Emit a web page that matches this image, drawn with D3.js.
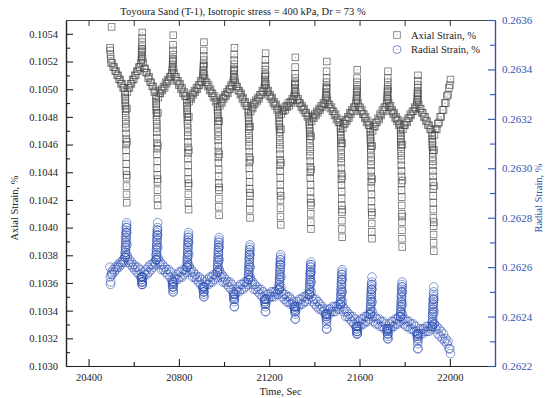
<!DOCTYPE html>
<html>
<head>
<meta charset="utf-8">
<script src="https://cdn.jsdelivr.net/npm/d3@7"></script>
<style>
  body { margin: 0; background: #fff; }
  svg { display: block; font-family: "Liberation Serif", "Times New Roman", serif; }
</style>
</head>
<body>
<script>
// Cyclic isotropic test record: one time stamp per reading, with the axial and
// radial strain logged at that same instant. One line per loading stage.
const timeSec = [
  20495, 20496, 20497, 20498, 20500, 20502,
  20505, 20509, 20514, 20518, 20522, 20527, 20531, 20535, 20540, 20544, 20548, 20553, 20557, 20561,
  20562, 20562, 20563, 20563, 20563, 20564, 20564, 20564, 20565, 20565, 20565, 20566, 20566, 20566, 20566, 20567, 20567, 20567, 20568, 20568, 20568, 20569, 20569, 20570, 20570,
  20572, 20577, 20581, 20586, 20590, 20595, 20600, 20604, 20609, 20614, 20618, 20623, 20627, 20632,
  20634, 20635, 20635, 20636, 20636, 20637, 20637, 20637, 20638, 20638, 20639,
  20641, 20646, 20650, 20655, 20659, 20664, 20668, 20673, 20677, 20682, 20686, 20691, 20695, 20700,
  20699, 20699, 20700, 20700, 20700, 20701, 20701, 20701, 20702, 20702, 20702, 20703, 20703, 20703, 20703, 20704, 20704, 20704, 20705, 20705, 20705, 20706, 20706, 20707, 20707,
  20709, 20714, 20718, 20723, 20727, 20732, 20737, 20741, 20746, 20750, 20755, 20760, 20764, 20769,
  20771, 20772, 20772, 20773, 20773, 20774, 20774, 20774, 20775, 20775, 20776,
  20778, 20782, 20787, 20791, 20796, 20800, 20805, 20809, 20814, 20818, 20823, 20827, 20832, 20836,
  20836, 20836, 20837, 20837, 20837, 20838, 20838, 20838, 20839, 20839, 20839, 20840, 20840, 20840, 20840, 20841, 20841, 20841, 20842, 20842, 20842, 20843, 20843, 20844, 20844,
  20846, 20851, 20855, 20860, 20864, 20869, 20873, 20878, 20882, 20887, 20891, 20896, 20900, 20905,
  20907, 20908, 20908, 20909, 20909, 20910, 20910, 20910, 20911, 20911, 20912,
  20914, 20918, 20923, 20927, 20932, 20936, 20940, 20945, 20949, 20953, 20958, 20962, 20967, 20971,
  20971, 20971, 20972, 20972, 20972, 20973, 20973, 20973, 20974, 20974, 20974, 20975, 20975, 20975, 20975, 20976, 20976, 20976, 20977, 20977, 20977, 20978, 20978, 20979, 20979,
  20981, 20986, 20990, 20995, 20999, 21004, 21008, 21013, 21017, 21022, 21026, 21031, 21035, 21040,
  21042, 21043, 21043, 21044, 21044, 21045, 21045, 21045, 21046, 21046, 21047,
  21049, 21054, 21058, 21063, 21067, 21072, 21076, 21081, 21085, 21090, 21094, 21099, 21103, 21108,
  21108, 21108, 21109, 21109, 21109, 21110, 21110, 21110, 21111, 21111, 21111, 21112, 21112, 21112, 21112, 21113, 21113, 21113, 21114, 21114, 21114, 21115, 21115, 21116, 21116,
  21118, 21123, 21127, 21132, 21136, 21141, 21146, 21150, 21155, 21159, 21164, 21169, 21173, 21178,
  21180, 21181, 21181, 21182, 21182, 21183, 21183, 21183, 21184, 21184, 21185,
  21187, 21191, 21196, 21200, 21205, 21209, 21213, 21218, 21222, 21226, 21231, 21235, 21240, 21244,
  21244, 21244, 21245, 21245, 21245, 21246, 21246, 21246, 21247, 21247, 21247, 21248, 21248, 21248, 21248, 21249, 21249, 21249, 21250, 21250, 21250, 21251, 21251, 21252, 21252,
  21254, 21258, 21263, 21267, 21271, 21276, 21280, 21284, 21289, 21293, 21297, 21302, 21306, 21310,
  21312, 21313, 21313, 21314, 21314, 21315, 21315, 21315, 21316, 21316, 21317,
  21319, 21324, 21328, 21333, 21337, 21342, 21346, 21351, 21355, 21360, 21364, 21369, 21373, 21378,
  21378, 21378, 21379, 21379, 21379, 21380, 21380, 21380, 21381, 21381, 21381, 21382, 21382, 21382, 21382, 21383, 21383, 21383, 21384, 21384, 21384, 21385, 21385, 21386, 21386,
  21388, 21393, 21397, 21402, 21407, 21411, 21416, 21421, 21425, 21430, 21435, 21440, 21444, 21449,
  21451, 21452, 21452, 21453, 21453, 21454, 21454, 21454, 21455, 21455, 21456,
  21458, 21462, 21467, 21471, 21476, 21480, 21485, 21489, 21494, 21498, 21503, 21507, 21512, 21516,
  21516, 21516, 21517, 21517, 21517, 21518, 21518, 21518, 21519, 21519, 21519, 21520, 21520, 21520, 21520, 21521, 21521, 21521, 21522, 21522, 21522, 21523, 21523, 21524, 21524,
  21526, 21530, 21535, 21539, 21544, 21548, 21553, 21557, 21562, 21566, 21571, 21575, 21580, 21584,
  21586, 21587, 21587, 21588, 21588, 21589, 21589, 21589, 21590, 21590, 21591,
  21593, 21597, 21602, 21606, 21610, 21614, 21619, 21623, 21627, 21631, 21636, 21640, 21644, 21648,
  21648, 21648, 21649, 21649, 21649, 21650, 21650, 21650, 21651, 21651, 21651, 21652, 21652, 21652, 21652, 21653, 21653, 21653, 21654, 21654, 21654, 21655, 21655, 21656, 21656,
  21658, 21663, 21668, 21672, 21677, 21682, 21687, 21691, 21696, 21701, 21706, 21710, 21715, 21720,
  21722, 21723, 21723, 21724, 21724, 21725, 21725, 21725, 21726, 21726, 21727,
  21729, 21733, 21737, 21741, 21745, 21749, 21753, 21758, 21762, 21766, 21770, 21774, 21778, 21782,
  21782, 21782, 21783, 21783, 21783, 21784, 21784, 21784, 21785, 21785, 21785, 21786, 21786, 21786, 21786, 21787, 21787, 21787, 21788, 21788, 21788, 21789, 21789, 21790, 21790,
  21792, 21797, 21801, 21806, 21811, 21815, 21820, 21825, 21829, 21834, 21839, 21844, 21848, 21853,
  21855, 21856, 21856, 21857, 21857, 21858, 21858, 21858, 21859, 21859, 21860,
  21862, 21867, 21871, 21876, 21880, 21885, 21890, 21894, 21899, 21903, 21908, 21913, 21917, 21922,
  21922, 21922, 21923, 21923, 21923, 21924, 21924, 21924, 21925, 21925, 21925, 21926, 21926, 21926, 21926, 21927, 21927, 21927, 21928, 21928, 21928, 21929, 21929, 21930, 21930,
  21932, 21937, 21942, 21947, 21952, 21957, 21962, 21967, 21972, 21977, 21982, 21987, 21992, 21996, 22000, 22003
];

const axialStrain = [
  0.10530, 0.10528, 0.10525, 0.10522, 0.10519, 0.10545,
  0.10519, 0.10516, 0.10516, 0.10513, 0.10513, 0.10510, 0.10510, 0.10507, 0.10507, 0.10504, 0.10504, 0.10501, 0.10501, 0.10498,
  0.10496, 0.10494, 0.10492, 0.10490, 0.10488, 0.10486, 0.10484, 0.10481, 0.10478, 0.10475, 0.10472, 0.10468, 0.10464, 0.10460, 0.10456, 0.10451, 0.10446, 0.10441, 0.10436, 0.10430, 0.10424, 0.10418, 0.10438, 0.10462, 0.10486,
  0.10498, 0.10501, 0.10501, 0.10504, 0.10504, 0.10507, 0.10507, 0.10510, 0.10510, 0.10513, 0.10513, 0.10516, 0.10516, 0.10519,
  0.10521, 0.10523, 0.10525, 0.10527, 0.10529, 0.10531, 0.10534, 0.10537, 0.10541, 0.10528, 0.10522,
  0.10519, 0.10515, 0.10515, 0.10512, 0.10512, 0.10508, 0.10509, 0.10505, 0.10505, 0.10502, 0.10502, 0.10498, 0.10499, 0.10495,
  0.10493, 0.10491, 0.10489, 0.10487, 0.10485, 0.10483, 0.10481, 0.10478, 0.10475, 0.10472, 0.10469, 0.10465, 0.10461, 0.10457, 0.10453, 0.10448, 0.10443, 0.10438, 0.10433, 0.10427, 0.10421, 0.10416, 0.10435, 0.10459, 0.10483,
  0.10494, 0.10497, 0.10497, 0.10500, 0.10499, 0.10502, 0.10501, 0.10505, 0.10504, 0.10507, 0.10506, 0.10509, 0.10509, 0.10512,
  0.10514, 0.10516, 0.10518, 0.10520, 0.10522, 0.10525, 0.10528, 0.10532, 0.10539, 0.10521, 0.10515,
  0.10512, 0.10509, 0.10509, 0.10506, 0.10506, 0.10503, 0.10504, 0.10500, 0.10501, 0.10497, 0.10498, 0.10495, 0.10495, 0.10492,
  0.10490, 0.10488, 0.10486, 0.10484, 0.10482, 0.10480, 0.10478, 0.10475, 0.10472, 0.10469, 0.10466, 0.10462, 0.10458, 0.10454, 0.10450, 0.10445, 0.10440, 0.10435, 0.10430, 0.10424, 0.10418, 0.10413, 0.10432, 0.10456, 0.10480,
  0.10491, 0.10494, 0.10493, 0.10497, 0.10496, 0.10499, 0.10498, 0.10501, 0.10500, 0.10503, 0.10503, 0.10506, 0.10505, 0.10508,
  0.10510, 0.10512, 0.10514, 0.10516, 0.10518, 0.10521, 0.10524, 0.10528, 0.10534, 0.10517, 0.10511,
  0.10508, 0.10505, 0.10505, 0.10502, 0.10503, 0.10499, 0.10500, 0.10497, 0.10497, 0.10494, 0.10495, 0.10491, 0.10492, 0.10489,
  0.10487, 0.10485, 0.10483, 0.10481, 0.10479, 0.10477, 0.10475, 0.10472, 0.10469, 0.10466, 0.10463, 0.10459, 0.10455, 0.10451, 0.10447, 0.10442, 0.10437, 0.10432, 0.10427, 0.10421, 0.10415, 0.10409, 0.10429, 0.10453, 0.10477,
  0.10488, 0.10491, 0.10490, 0.10494, 0.10493, 0.10496, 0.10495, 0.10498, 0.10497, 0.10500, 0.10500, 0.10503, 0.10502, 0.10505,
  0.10507, 0.10509, 0.10511, 0.10513, 0.10515, 0.10518, 0.10521, 0.10525, 0.10530, 0.10514, 0.10508,
  0.10505, 0.10502, 0.10502, 0.10499, 0.10499, 0.10496, 0.10497, 0.10493, 0.10494, 0.10490, 0.10491, 0.10488, 0.10488, 0.10485,
  0.10483, 0.10481, 0.10479, 0.10477, 0.10475, 0.10473, 0.10471, 0.10468, 0.10465, 0.10462, 0.10459, 0.10455, 0.10451, 0.10447, 0.10443, 0.10438, 0.10433, 0.10428, 0.10423, 0.10418, 0.10413, 0.10407, 0.10425, 0.10449, 0.10473,
  0.10484, 0.10487, 0.10486, 0.10490, 0.10489, 0.10492, 0.10491, 0.10494, 0.10493, 0.10496, 0.10496, 0.10499, 0.10498, 0.10501,
  0.10503, 0.10505, 0.10507, 0.10509, 0.10511, 0.10514, 0.10517, 0.10521, 0.10526, 0.10510, 0.10504,
  0.10501, 0.10498, 0.10499, 0.10495, 0.10496, 0.10493, 0.10494, 0.10490, 0.10491, 0.10488, 0.10489, 0.10485, 0.10486, 0.10483,
  0.10481, 0.10479, 0.10477, 0.10475, 0.10473, 0.10471, 0.10469, 0.10466, 0.10463, 0.10460, 0.10457, 0.10453, 0.10449, 0.10445, 0.10441, 0.10436, 0.10431, 0.10426, 0.10420, 0.10414, 0.10408, 0.10402, 0.10423, 0.10447, 0.10471,
  0.10482, 0.10485, 0.10484, 0.10487, 0.10485, 0.10488, 0.10487, 0.10490, 0.10488, 0.10491, 0.10490, 0.10493, 0.10492, 0.10495,
  0.10497, 0.10499, 0.10501, 0.10503, 0.10505, 0.10508, 0.10511, 0.10516, 0.10523, 0.10504, 0.10498,
  0.10495, 0.10492, 0.10493, 0.10490, 0.10490, 0.10487, 0.10488, 0.10485, 0.10486, 0.10483, 0.10483, 0.10480, 0.10481, 0.10478,
  0.10476, 0.10474, 0.10472, 0.10470, 0.10468, 0.10466, 0.10464, 0.10461, 0.10458, 0.10455, 0.10452, 0.10448, 0.10444, 0.10440, 0.10436, 0.10431, 0.10426, 0.10421, 0.10416, 0.10410, 0.10404, 0.10399, 0.10418, 0.10442, 0.10466,
  0.10477, 0.10480, 0.10479, 0.10482, 0.10481, 0.10484, 0.10483, 0.10486, 0.10485, 0.10488, 0.10487, 0.10490, 0.10489, 0.10492,
  0.10494, 0.10496, 0.10498, 0.10500, 0.10502, 0.10505, 0.10508, 0.10513, 0.10520, 0.10501, 0.10495,
  0.10492, 0.10489, 0.10489, 0.10486, 0.10487, 0.10484, 0.10484, 0.10481, 0.10482, 0.10478, 0.10479, 0.10476, 0.10476, 0.10473,
  0.10471, 0.10469, 0.10467, 0.10465, 0.10463, 0.10461, 0.10459, 0.10456, 0.10453, 0.10450, 0.10447, 0.10443, 0.10439, 0.10435, 0.10431, 0.10426, 0.10421, 0.10416, 0.10411, 0.10405, 0.10399, 0.10393, 0.10413, 0.10437, 0.10461,
  0.10472, 0.10475, 0.10475, 0.10478, 0.10477, 0.10480, 0.10479, 0.10483, 0.10482, 0.10485, 0.10484, 0.10487, 0.10487, 0.10490,
  0.10492, 0.10494, 0.10496, 0.10498, 0.10500, 0.10502, 0.10505, 0.10508, 0.10514, 0.10499, 0.10493,
  0.10490, 0.10487, 0.10487, 0.10484, 0.10485, 0.10482, 0.10482, 0.10479, 0.10480, 0.10476, 0.10477, 0.10474, 0.10474, 0.10471,
  0.10469, 0.10467, 0.10465, 0.10463, 0.10461, 0.10459, 0.10457, 0.10454, 0.10451, 0.10448, 0.10445, 0.10441, 0.10437, 0.10433, 0.10429, 0.10424, 0.10419, 0.10414, 0.10409, 0.10403, 0.10397, 0.10392, 0.10411, 0.10435, 0.10459,
  0.10470, 0.10473, 0.10473, 0.10476, 0.10476, 0.10479, 0.10478, 0.10482, 0.10481, 0.10485, 0.10484, 0.10487, 0.10487, 0.10490,
  0.10492, 0.10494, 0.10496, 0.10498, 0.10500, 0.10502, 0.10505, 0.10508, 0.10513, 0.10499, 0.10493,
  0.10490, 0.10487, 0.10488, 0.10484, 0.10485, 0.10482, 0.10483, 0.10479, 0.10480, 0.10477, 0.10478, 0.10474, 0.10475, 0.10472,
  0.10470, 0.10468, 0.10466, 0.10464, 0.10462, 0.10460, 0.10458, 0.10455, 0.10452, 0.10449, 0.10445, 0.10441, 0.10437, 0.10432, 0.10427, 0.10422, 0.10416, 0.10410, 0.10404, 0.10398, 0.10392, 0.10386, 0.10408, 0.10434, 0.10460,
  0.10471, 0.10474, 0.10474, 0.10477, 0.10476, 0.10479, 0.10479, 0.10482, 0.10481, 0.10484, 0.10484, 0.10487, 0.10486, 0.10489,
  0.10491, 0.10493, 0.10495, 0.10497, 0.10499, 0.10501, 0.10503, 0.10506, 0.10510, 0.10497, 0.10492,
  0.10489, 0.10486, 0.10486, 0.10483, 0.10483, 0.10480, 0.10480, 0.10477, 0.10477, 0.10474, 0.10474, 0.10471, 0.10471, 0.10468,
  0.10466, 0.10464, 0.10462, 0.10460, 0.10458, 0.10456, 0.10454, 0.10451, 0.10448, 0.10445, 0.10441, 0.10437, 0.10433, 0.10428, 0.10423, 0.10418, 0.10413, 0.10407, 0.10401, 0.10395, 0.10389, 0.10383, 0.10404, 0.10430, 0.10456,
  0.10467, 0.10471, 0.10471, 0.10475, 0.10476, 0.10480, 0.10480, 0.10485, 0.10485, 0.10490, 0.10490, 0.10495, 0.10496, 0.10501, 0.10503, 0.10507
];

const radialStrain = [
  0.26260, 0.26256, 0.26253, 0.26254, 0.26257, 0.26258,
  0.26257, 0.26259, 0.26258, 0.26260, 0.26259, 0.26260, 0.26261, 0.26260, 0.26262, 0.26261, 0.26262, 0.26263, 0.26262, 0.26264,
  0.26264, 0.26264, 0.26265, 0.26266, 0.26266, 0.26267, 0.26268, 0.26268, 0.26269, 0.26270, 0.26270, 0.26271, 0.26272, 0.26272, 0.26273, 0.26274, 0.26274, 0.26275, 0.26276, 0.26276, 0.26277, 0.26278, 0.26274, 0.26269, 0.26265,
  0.26264, 0.26262, 0.26263, 0.26261, 0.26262, 0.26260, 0.26261, 0.26259, 0.26260, 0.26258, 0.26260, 0.26257, 0.26259, 0.26256,
  0.26256, 0.26256, 0.26255, 0.26255, 0.26254, 0.26254, 0.26253, 0.26253, 0.26253, 0.26254, 0.26256,
  0.26256, 0.26258, 0.26257, 0.26259, 0.26257, 0.26260, 0.26258, 0.26261, 0.26259, 0.26261, 0.26260, 0.26262, 0.26261, 0.26263,
  0.26263, 0.26263, 0.26264, 0.26265, 0.26265, 0.26266, 0.26267, 0.26267, 0.26268, 0.26269, 0.26269, 0.26270, 0.26271, 0.26271, 0.26272, 0.26273, 0.26273, 0.26274, 0.26275, 0.26275, 0.26276, 0.26278, 0.26273, 0.26268, 0.26264,
  0.26263, 0.26261, 0.26262, 0.26259, 0.26261, 0.26259, 0.26260, 0.26258, 0.26259, 0.26257, 0.26259, 0.26256, 0.26258, 0.26255,
  0.26254, 0.26254, 0.26253, 0.26253, 0.26252, 0.26252, 0.26251, 0.26250, 0.26250, 0.26252, 0.26254,
  0.26254, 0.26256, 0.26255, 0.26257, 0.26255, 0.26258, 0.26256, 0.26258, 0.26256, 0.26259, 0.26257, 0.26259, 0.26258, 0.26260,
  0.26260, 0.26260, 0.26261, 0.26262, 0.26262, 0.26263, 0.26264, 0.26264, 0.26265, 0.26266, 0.26266, 0.26267, 0.26268, 0.26268, 0.26269, 0.26270, 0.26270, 0.26271, 0.26272, 0.26272, 0.26273, 0.26274, 0.26270, 0.26265, 0.26261,
  0.26260, 0.26258, 0.26259, 0.26256, 0.26258, 0.26256, 0.26257, 0.26255, 0.26256, 0.26254, 0.26256, 0.26253, 0.26255, 0.26252,
  0.26252, 0.26252, 0.26251, 0.26251, 0.26250, 0.26250, 0.26249, 0.26248, 0.26248, 0.26250, 0.26252,
  0.26252, 0.26254, 0.26253, 0.26255, 0.26253, 0.26256, 0.26254, 0.26256, 0.26254, 0.26257, 0.26255, 0.26257, 0.26256, 0.26258,
  0.26258, 0.26258, 0.26259, 0.26260, 0.26260, 0.26261, 0.26262, 0.26262, 0.26263, 0.26264, 0.26264, 0.26265, 0.26266, 0.26266, 0.26267, 0.26268, 0.26268, 0.26269, 0.26270, 0.26270, 0.26271, 0.26272, 0.26268, 0.26263, 0.26259,
  0.26258, 0.26256, 0.26257, 0.26254, 0.26256, 0.26254, 0.26255, 0.26253, 0.26254, 0.26252, 0.26254, 0.26251, 0.26253, 0.26250,
  0.26249, 0.26249, 0.26248, 0.26248, 0.26247, 0.26247, 0.26246, 0.26244, 0.26244, 0.26247, 0.26249,
  0.26249, 0.26251, 0.26250, 0.26252, 0.26250, 0.26253, 0.26251, 0.26253, 0.26251, 0.26254, 0.26252, 0.26254, 0.26253, 0.26255,
  0.26255, 0.26255, 0.26256, 0.26257, 0.26257, 0.26258, 0.26259, 0.26259, 0.26260, 0.26261, 0.26261, 0.26262, 0.26263, 0.26263, 0.26264, 0.26265, 0.26265, 0.26266, 0.26267, 0.26267, 0.26268, 0.26269, 0.26265, 0.26260, 0.26256,
  0.26255, 0.26253, 0.26254, 0.26251, 0.26253, 0.26251, 0.26252, 0.26250, 0.26251, 0.26249, 0.26251, 0.26248, 0.26250, 0.26247,
  0.26247, 0.26247, 0.26246, 0.26246, 0.26245, 0.26245, 0.26244, 0.26242, 0.26242, 0.26245, 0.26247,
  0.26247, 0.26249, 0.26247, 0.26249, 0.26248, 0.26250, 0.26248, 0.26250, 0.26248, 0.26250, 0.26249, 0.26251, 0.26249, 0.26251,
  0.26251, 0.26251, 0.26252, 0.26253, 0.26253, 0.26254, 0.26255, 0.26255, 0.26256, 0.26257, 0.26257, 0.26258, 0.26259, 0.26259, 0.26260, 0.26261, 0.26261, 0.26262, 0.26263, 0.26263, 0.26264, 0.26265, 0.26261, 0.26256, 0.26252,
  0.26250, 0.26248, 0.26249, 0.26247, 0.26249, 0.26246, 0.26248, 0.26246, 0.26248, 0.26245, 0.26247, 0.26245, 0.26246, 0.26244,
  0.26244, 0.26244, 0.26243, 0.26243, 0.26242, 0.26242, 0.26241, 0.26239, 0.26239, 0.26242, 0.26244,
  0.26244, 0.26246, 0.26244, 0.26247, 0.26245, 0.26247, 0.26245, 0.26248, 0.26246, 0.26248, 0.26246, 0.26249, 0.26247, 0.26249,
  0.26249, 0.26249, 0.26250, 0.26251, 0.26251, 0.26252, 0.26253, 0.26253, 0.26254, 0.26255, 0.26255, 0.26256, 0.26257, 0.26257, 0.26258, 0.26258, 0.26259, 0.26260, 0.26260, 0.26261, 0.26261, 0.26262, 0.26258, 0.26254, 0.26250,
  0.26248, 0.26246, 0.26247, 0.26245, 0.26247, 0.26244, 0.26246, 0.26243, 0.26245, 0.26243, 0.26244, 0.26242, 0.26243, 0.26241,
  0.26241, 0.26241, 0.26240, 0.26240, 0.26239, 0.26238, 0.26237, 0.26235, 0.26235, 0.26239, 0.26241,
  0.26241, 0.26243, 0.26241, 0.26243, 0.26242, 0.26244, 0.26242, 0.26244, 0.26242, 0.26244, 0.26243, 0.26245, 0.26243, 0.26245,
  0.26245, 0.26245, 0.26246, 0.26247, 0.26247, 0.26248, 0.26249, 0.26249, 0.26250, 0.26251, 0.26251, 0.26252, 0.26253, 0.26253, 0.26254, 0.26255, 0.26255, 0.26256, 0.26257, 0.26257, 0.26258, 0.26259, 0.26255, 0.26250, 0.26246,
  0.26244, 0.26242, 0.26243, 0.26240, 0.26242, 0.26240, 0.26241, 0.26239, 0.26240, 0.26238, 0.26240, 0.26237, 0.26239, 0.26236,
  0.26236, 0.26236, 0.26235, 0.26235, 0.26234, 0.26234, 0.26233, 0.26233, 0.26233, 0.26234, 0.26236,
  0.26236, 0.26238, 0.26236, 0.26239, 0.26237, 0.26239, 0.26237, 0.26240, 0.26238, 0.26240, 0.26238, 0.26241, 0.26239, 0.26241,
  0.26241, 0.26241, 0.26242, 0.26243, 0.26243, 0.26244, 0.26245, 0.26245, 0.26246, 0.26247, 0.26247, 0.26248, 0.26249, 0.26249, 0.26250, 0.26251, 0.26251, 0.26252, 0.26253, 0.26253, 0.26254, 0.26256, 0.26251, 0.26246, 0.26242,
  0.26240, 0.26238, 0.26240, 0.26237, 0.26239, 0.26237, 0.26239, 0.26236, 0.26238, 0.26236, 0.26238, 0.26235, 0.26237, 0.26235,
  0.26235, 0.26235, 0.26234, 0.26234, 0.26233, 0.26233, 0.26232, 0.26231, 0.26231, 0.26233, 0.26235,
  0.26235, 0.26237, 0.26235, 0.26238, 0.26236, 0.26238, 0.26236, 0.26239, 0.26237, 0.26239, 0.26237, 0.26240, 0.26238, 0.26240,
  0.26240, 0.26240, 0.26241, 0.26242, 0.26242, 0.26243, 0.26244, 0.26244, 0.26245, 0.26246, 0.26246, 0.26247, 0.26248, 0.26248, 0.26249, 0.26250, 0.26250, 0.26251, 0.26252, 0.26252, 0.26253, 0.26254, 0.26250, 0.26245, 0.26241,
  0.26239, 0.26237, 0.26239, 0.26236, 0.26238, 0.26236, 0.26238, 0.26235, 0.26237, 0.26235, 0.26237, 0.26234, 0.26236, 0.26234,
  0.26233, 0.26233, 0.26232, 0.26232, 0.26231, 0.26230, 0.26229, 0.26227, 0.26227, 0.26231, 0.26233,
  0.26233, 0.26235, 0.26233, 0.26235, 0.26233, 0.26235, 0.26234, 0.26236, 0.26234, 0.26236, 0.26234, 0.26236, 0.26235, 0.26236,
  0.26236, 0.26236, 0.26237, 0.26238, 0.26238, 0.26239, 0.26240, 0.26241, 0.26241, 0.26242, 0.26243, 0.26243, 0.26244, 0.26245, 0.26245, 0.26246, 0.26247, 0.26247, 0.26248, 0.26249, 0.26250, 0.26252, 0.26247, 0.26242, 0.26237,
  0.26237, 0.26235, 0.26236, 0.26233, 0.26235, 0.26232, 0.26234, 0.26231, 0.26233, 0.26230, 0.26231, 0.26229, 0.26230, 0.26227, 0.26227, 0.26225
];

// Axis tick values and labels
const timeMajorTicks = [20400, 20800, 21200, 21600, 22000];
const timeMinorTicks = [20600, 21000, 21400, 21800];
const timeTopTicks = [20400, 20600, 20800, 21000, 21200, 21400, 21600, 21800, 22000];
const axialMajorTicks = [0.1030, 0.1032, 0.1034, 0.1036, 0.1038, 0.1040, 0.1042, 0.1044, 0.1046, 0.1048, 0.1050, 0.1052, 0.1054];
const axialMinorTicks = [0.1031, 0.1033, 0.1035, 0.1037, 0.1039, 0.1041, 0.1043, 0.1045, 0.1047, 0.1049, 0.1051, 0.1053];
const radialMajorTicks = [0.2622, 0.2624, 0.2626, 0.2628, 0.2630, 0.2632, 0.2634, 0.2636];
const radialMinorTicks = [0.2623, 0.2625, 0.2627, 0.2629, 0.2631, 0.2633, 0.2635];

const titleText = "Toyoura Sand (T-1), Isotropic stress = 400 kPa, Dr = 73 %";
const xTitle = "Time, Sec";
const axialTitle = "Axial Strain, %";
const radialTitle = "Radial Strain, %";

const W = 546, H = 398;
const box = { left: 66, right: 495, top: 20, bottom: 366 };
const BLUE = "#3353b0";
const INK = "#222";
const SQ_STROKE = "#4a4a4a";
const CIRC_STROKE = "#2f50b4";

const x = d3.scaleLinear().domain([20300, 22200]).range([box.left, box.right]);
const yAxial = d3.scaleLinear().domain([0.1030, 0.1055]).range([box.bottom, box.top]);
const yRadial = d3.scaleLinear().domain([0.2622, 0.2636]).range([box.bottom, box.top]);

const n = Math.min(timeSec.length, axialStrain.length, radialStrain.length);
const records = d3.range(n).map(i => ({ t: timeSec[i], axial: axialStrain[i], radial: radialStrain[i] }));

const svg = d3.select("body").append("svg").attr("width", W).attr("height", H);
svg.append("rect").attr("width", W).attr("height", H).attr("fill", "#fff");

// Axial strain: hollow grey squares with a centre dot
const SQ = 6.6;
const gA = svg.append("g");
gA.selectAll("rect").data(records).join("rect")
  .attr("x", d => x(d.t) - SQ / 2)
  .attr("y", d => yAxial(d.axial) - SQ / 2)
  .attr("width", SQ).attr("height", SQ)
  .attr("fill", "none")
  .attr("stroke", SQ_STROKE)
  .attr("stroke-width", 0.8)
  .attr("stroke-opacity", 0.8);
gA.selectAll("circle").data(records).join("circle")
  .attr("cx", d => x(d.t)).attr("cy", d => yAxial(d.axial))
  .attr("r", 0.55).attr("fill", "#888");

// Radial strain: hollow blue circles
const CR = 4.3;
const gR = svg.append("g");
gR.selectAll("circle").data(records).join("circle")
  .attr("cx", d => x(d.t)).attr("cy", d => yRadial(d.radial))
  .attr("r", CR)
  .attr("fill", "none")
  .attr("stroke", CIRC_STROKE)
  .attr("stroke-width", 0.8)
  .attr("stroke-opacity", 0.72);

// Axes: every tick points into the plot
function styleAxis(g, color, fontSize) {
  g.attr("font-family", "Liberation Serif, Times New Roman, serif").attr("font-size", fontSize);
  g.selectAll("path.domain").attr("stroke", color).attr("stroke-width", 1.2);
  g.selectAll(".tick line").attr("stroke", color).attr("stroke-width", 1.1);
  g.selectAll(".tick text").attr("fill", color === BLUE ? BLUE : INK);
}

const fmt4 = d3.format(".4f");

const gLeftMinor = svg.append("g").attr("transform", `translate(${box.left},0)`)
  .call(d3.axisLeft(yAxial).tickValues(axialMinorTicks).tickSize(-4).tickSizeOuter(0).tickFormat(() => ""));
styleAxis(gLeftMinor, INK, 10.5);
const gLeft = svg.append("g").attr("transform", `translate(${box.left},0)`)
  .call(d3.axisLeft(yAxial).tickValues(axialMajorTicks).tickSize(-7).tickSizeOuter(0).tickPadding(8).tickFormat(fmt4));
styleAxis(gLeft, INK, 10.5);

const gBottomMinor = svg.append("g").attr("transform", `translate(0,${box.bottom})`)
  .call(d3.axisBottom(x).tickValues(timeMinorTicks).tickSize(-4).tickSizeOuter(0).tickFormat(() => ""));
styleAxis(gBottomMinor, INK, 10.5);
const gBottom = svg.append("g").attr("transform", `translate(0,${box.bottom})`)
  .call(d3.axisBottom(x).tickValues(timeMajorTicks).tickSize(-7).tickSizeOuter(0).tickPadding(8).tickFormat(d3.format("d")));
styleAxis(gBottom, INK, 10.5);

const gTop = svg.append("g").attr("transform", `translate(0,${box.top})`)
  .call(d3.axisTop(x).tickValues(timeTopTicks).tickSize(-6).tickSizeOuter(0).tickFormat(() => ""));
styleAxis(gTop, "#444", 10.5);

const gRightMinor = svg.append("g").attr("transform", `translate(${box.right},0)`)
  .call(d3.axisRight(yRadial).tickValues(radialMinorTicks).tickSize(-5).tickSizeOuter(0).tickFormat(() => ""));
styleAxis(gRightMinor, BLUE, 11);
const gRight = svg.append("g").attr("transform", `translate(${box.right},0)`)
  .call(d3.axisRight(yRadial).tickValues(radialMajorTicks).tickSize(-7).tickSizeOuter(0).tickPadding(7).tickFormat(fmt4));
styleAxis(gRight, BLUE, 11);

// Titles
svg.append("text").attr("x", 243).attr("y", 15).attr("text-anchor", "middle")
  .attr("font-size", 10.5).attr("fill", INK).text(titleText);
svg.append("text").attr("x", (box.left + box.right) / 2).attr("y", 395).attr("text-anchor", "middle")
  .attr("font-size", 10.5).attr("fill", INK).text(xTitle);
svg.append("text").attr("transform", "translate(18,208) rotate(-90)").attr("text-anchor", "middle")
  .attr("font-size", 10.5).attr("fill", INK).text(axialTitle);
svg.append("text").attr("transform", "translate(542,198) rotate(-90)").attr("text-anchor", "middle")
  .attr("font-size", 10.5).attr("fill", BLUE).text(radialTitle);

// Legend
const leg = svg.append("g").attr("font-size", 10.5);
leg.append("rect").attr("x", 397 - 3.3).attr("y", 35 - 3.3).attr("width", 6.6).attr("height", 6.6)
  .attr("fill", "none").attr("stroke", "#777").attr("stroke-width", 0.8);
leg.append("circle").attr("cx", 397).attr("cy", 35).attr("r", 0.55).attr("fill", "#888");
leg.append("text").attr("x", 411).attr("y", 38.5).attr("fill", INK).text("Axial Strain, %");
leg.append("circle").attr("cx", 397).attr("cy", 49.5).attr("r", 4)
  .attr("fill", "none").attr("stroke", CIRC_STROKE).attr("stroke-width", 0.8).attr("stroke-opacity", 0.8);
leg.append("circle").attr("cx", 397).attr("cy", 49.5).attr("r", 0.5).attr("fill", "#6a80c8");
leg.append("text").attr("x", 411).attr("y", 53).attr("fill", INK).text("Radial Strain, %");
</script>
</body>
</html>
